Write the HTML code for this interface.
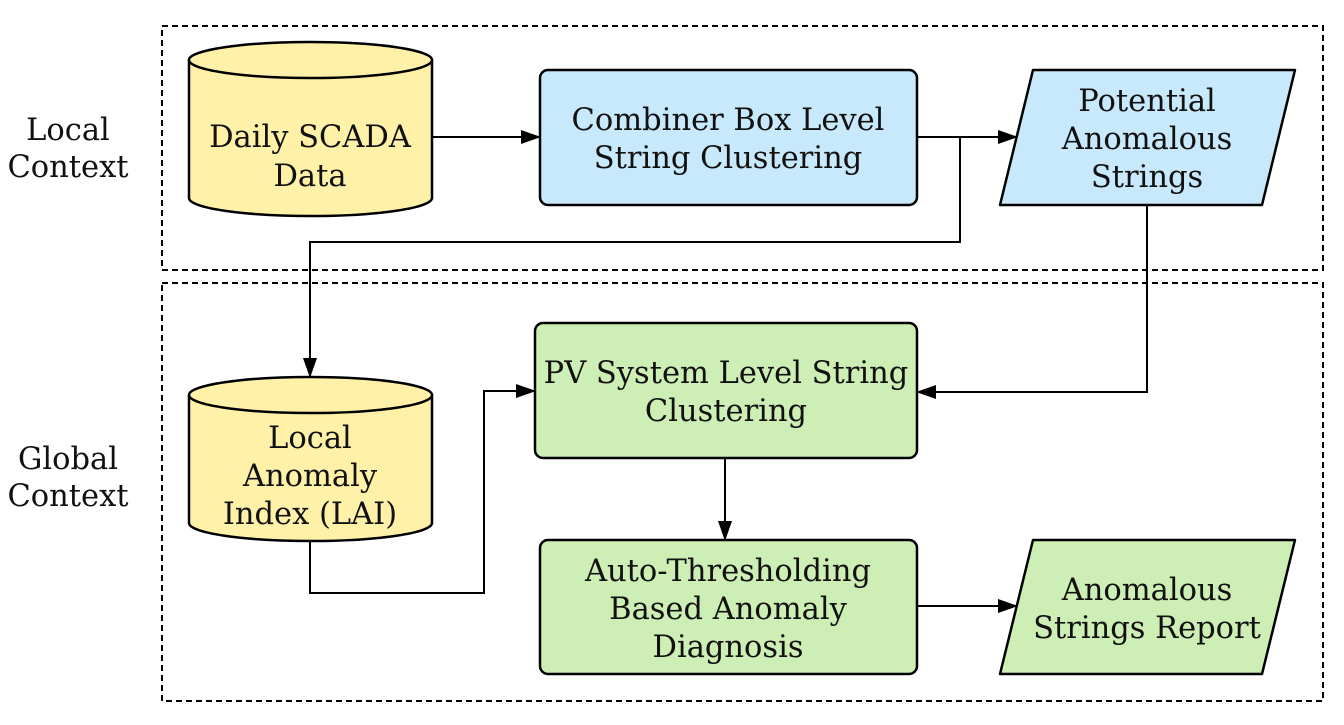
<!DOCTYPE html>
<html><head><meta charset="utf-8"><style>
html,body{margin:0;padding:0;background:#fff;}
svg text{font-family:"DejaVu Serif","Liberation Serif",serif;font-size:30.5px;fill:#111;text-anchor:middle;}
</style></head><body>
<svg width="1344" height="720" viewBox="0 0 1344 720" xmlns="http://www.w3.org/2000/svg">
<defs><marker id="a" markerWidth="20" markerHeight="14" refX="19" refY="7" orient="auto" markerUnits="userSpaceOnUse"><path d="M0,0 L20,7 L0,14 z" fill="#000"/></marker></defs>
<rect x="162" y="26" width="1161" height="244" fill="none" stroke="#000" stroke-width="2" stroke-dasharray="6,4"/>
<rect x="162" y="283" width="1161" height="418" fill="none" stroke="#000" stroke-width="2" stroke-dasharray="6,4"/>
<text x="68" y="140">Local</text><text x="68" y="177">Context</text>
<text x="68" y="469">Global</text><text x="68" y="506">Context</text>
<path d="M189,60 L189,198 A121.5,18 0 0 0 432,198 L432,60" fill="#fff2a8" stroke="#000" stroke-width="2.5"/>
<ellipse cx="310.5" cy="60" rx="121.5" ry="18" fill="#fff2a8" stroke="#000" stroke-width="2.5"/>
<text x="310" y="147">Daily SCADA</text><text x="310" y="186">Data</text>
<path d="M189,395 L189,523 A121.5,18 0 0 0 432,523 L432,395" fill="#fff2a8" stroke="#000" stroke-width="2.5"/>
<ellipse cx="310.5" cy="395" rx="121.5" ry="18" fill="#fff2a8" stroke="#000" stroke-width="2.5"/>
<text x="310" y="448">Local</text><text x="310" y="486">Anomaly</text><text x="310" y="524">Index (LAI)</text>
<rect x="540" y="70" width="377" height="135" rx="8" fill="#c8e9fb" stroke="#000" stroke-width="2.5"/>
<text x="728" y="130">Combiner Box Level</text><text x="728" y="168">String Clustering</text>
<path d="M1033,70 L1295,70 L1262,205 L1000,205 Z" fill="#c8e9fb" stroke="#000" stroke-width="2.5" stroke-linejoin="round"/>
<text x="1147" y="111">Potential</text><text x="1147" y="149">Anomalous</text><text x="1147" y="187">Strings</text>
<rect x="535" y="323" width="382" height="135" rx="8" fill="#cdeeb4" stroke="#000" stroke-width="2.5"/>
<text x="726" y="383">PV System Level String</text><text x="726" y="421">Clustering</text>
<rect x="540" y="540" width="377" height="134" rx="8" fill="#cdeeb4" stroke="#000" stroke-width="2.5"/>
<text x="728" y="581">Auto-Thresholding</text><text x="728" y="619">Based Anomaly</text><text x="728" y="657">Diagnosis</text>
<path d="M1033,540 L1295,540 L1262,674 L1000,674 Z" fill="#cdeeb4" stroke="#000" stroke-width="2.5" stroke-linejoin="round"/>
<text x="1147" y="600">Anomalous</text><text x="1147" y="638">Strings Report</text>
<g fill="none" stroke="#000" stroke-width="2">
<path d="M432,137 L540,137" marker-end="url(#a)"/>
<path d="M917,137 L1017,137" marker-end="url(#a)"/>
<path d="M960,137 L960,242 L310,242 L310,377" marker-end="url(#a)"/>
<path d="M1147,205 L1147,392 L917,392" marker-end="url(#a)"/>
<path d="M310,541 L310,593 L484,593 L484,391 L535,391" marker-end="url(#a)"/>
<path d="M725,458 L725,540" marker-end="url(#a)"/>
<path d="M917,606 L1017,606" marker-end="url(#a)"/>
</g>
</svg>
</body></html>
